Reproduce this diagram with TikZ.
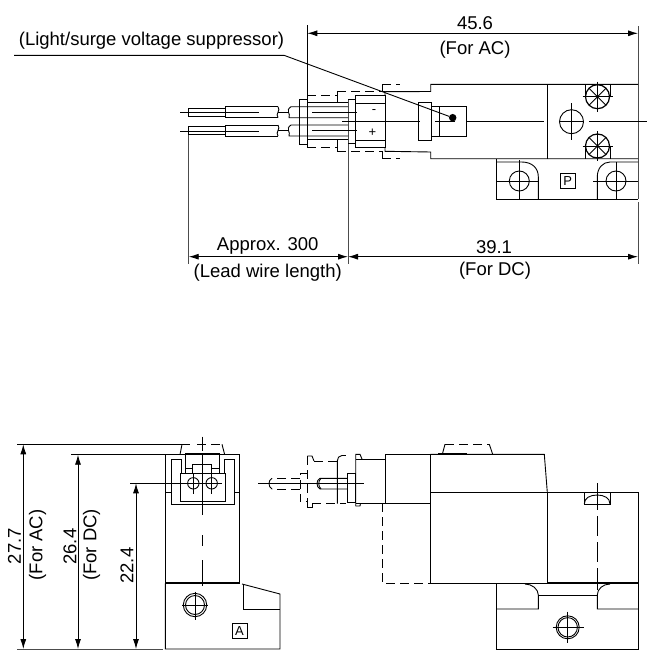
\documentclass[tikz,border=0pt]{standalone}
\usepackage{fontspec}
\setmainfont{Liberation Sans}
\usetikzlibrary{arrows.meta}
\tikzset{
	line/.style={draw=black,line width=0.9pt},
	hidden/.style={line,dash pattern=on 9pt off 5pt},
	heavy/.style={draw=black,line width=1.8pt},
	centre/.style={draw=black,line width=0.9pt},
	extline/.style={draw=black!70,line width=1pt},
	dim/.style={draw=black,line width=0.9pt,{Latex[length=10pt,width=6pt]}-{Latex[length=10pt,width=6pt]}},
	label/.style={inner sep=0pt,font=\fontsize{18.5}{20}\selectfont},
	polarity/.style={inner sep=0pt,font=\fontsize{13}{14}\selectfont},
	tag/.style={draw=black,line width=0.7pt,minimum size=15pt,inner sep=0pt,font=\fontsize{13}{14}\selectfont},
}
\begin{document}
\begin{tikzpicture}[x=1pt,y=-1pt]
		\useasboundingbox (0,0) rectangle (652,653);
		% labels
		\node[label] (supp) at (151.5,41) {(Light/surge voltage suppressor)};
		\node[label] (d456) at (475,23) {45.6};
		\node[label] (ac1) at (475,50) {(For AC)};
		\node[label] (d300) at (267.7,245.7) {Approx. 300};
		\node[label] (lead) at (267.7,272.7) {(Lead wire length)};
		\node[label] (d391) at (494,247) {39.1};
		\node[label] (dc1) at (495,271) {(For DC)};
		\node[label,rotate=90] (d277) at (14.5,546) {27.7};
		\node[label,rotate=90] (ac2) at (37.7,545) {(For AC)};
		\node[label,rotate=90] (d264) at (70,546.7) {26.4};
		\node[label,rotate=90] (dc2) at (91.7,545) {(For DC)};
		\node[label,rotate=90] (d224) at (127,565.7) {22.4};
		\node[tag] (P) at (567.8,181.2) {P};
		\node[tag] (A) at (239.5,631.2) {A};
		\node[polarity] (minus) at (374,112) {-};
		\node[polarity] (plus) at (372.3,132.3) {+};
		
		% top view, dimensions
		\coordinate (t1) at (307.3,33.3);
		\coordinate (t2) at (638,33.3);
		\coordinate (b1) at (188.7,256.7);
		\coordinate (b2) at (348,256.7);
		\coordinate (b3) at (638,256.7);
		\draw[dim] (t1) -- (t2);
		\draw[dim] (b1) -- (b2);
		\draw[dim] (b2) -- (b3);
		\draw[line] (307.3,25) -- (307.3,95.3);
		\draw[extline] (638,26) -- (638,199);
		\draw[extline] (638,202) -- (638,264);
		\draw[extline] (188.7,134.7) -- (188.7,264);
		\draw[extline] (348,99) -- (348,264);
		\coordinate (lead0) at (14,55.3);
		\coordinate (lead1) at (284,55.3);
		\node[circle,fill=black,inner sep=0pt,minimum size=7.5pt] (dot) at (452.7,117.7) {};
		\draw[line] (lead0) -- (lead1) -- (dot);
		
		% top view, wires
		\draw[line] (180,112.3) -- (259,112.3);
		\draw[line] (180,131) -- (259,131);
		\draw[line] (188,108) rectangle (225.7,116);
		\draw[line] (188,126.7) rectangle (225.7,134.7);
		\foreach \y in {106.7,125} {
			\draw[line] (278,\y) -- (225.7,\y) -- (225.7,\y+11) -- (278,\y+11);
			\draw[line] (278,\y) .. controls (281,\y+4) and (275,\y+7) .. (278,\y+11);
			\draw[line] (278,\y+5.5) -- (288,\y+5.5);
			\draw[line] (348,\y) -- (291,\y) .. controls (285,\y+4) and (291,\y+7) .. (289,\y+11) -- (348,\y+11);
			\draw[line] (312,\y+5.5) -- (357,\y+5.5);
		}
		\draw[line] (307.3,99.3) -- (299.3,99.3) -- (299.3,144) -- (307.3,144);
		\draw[line] (307.3,95.3) -- (307.3,148);
		\draw[line] (307.3,102.7) -- (348,102.7);
		\draw[line] (307.3,139.3) -- (348,139.3);
		\draw[hidden] (307.3,95.3) -- (337,95.3);
		\draw[hidden] (307.3,147.7) -- (337,147.7);
		\draw[line] (337,102.7) -- (337,91.7);
		\draw[line] (337,139.3) -- (337,151.3);
		\draw[hidden] (337,91.7) -- (385,91.7);
		\draw[hidden] (337,151.3) -- (382,151.3);
		\draw[line] (382,91.7) -- (382,84.7);
		\draw[line] (382,151.3) -- (382,158.7);
		\draw[hidden] (382,84.7) -- (400,84.7);
		\draw[hidden] (382,158.7) -- (400,158.7);
		
		% top view, body
		\draw[line] (348,99) -- (355.7,99);
		\draw[line] (348,143.3) -- (355.7,143.3);
		\draw[line] (355.7,95) rectangle (385,147.3);
		\draw[line] (355.7,103) -- (385,103);
		\draw[line] (355.7,140) -- (385,140);
		\draw[line] (385,95) -- (385,91.7) -- (430.7,91.5) -- (430.7,84.3) -- (638,84.3);
		\draw[line] (385,147.3) -- (385,151.3) -- (430.7,152) -- (430.7,158.7) -- (638,158.7);
		\draw[line] (342,121.7) -- (420,121.7);
		\draw[line] (435,121.7) -- (455,121.7);
		\draw[line] (466,121.7) -- (544,121.7);
		\draw[line] (589,121.7) -- (647,121.7);
		\draw[line] (418.7,102.7) rectangle (431.7,140);
		\draw[line] (431.7,106.3) rectangle (466,136);
		\draw[line] (439.7,106.3) -- (439.7,136);
		\draw[line] (547,84.3) -- (547,158.7);
		\draw[line] (571.5,121.7) circle (12);
		\draw[line] (571.5,103) -- (571.5,140);
		\draw[line] (560,121.7) -- (583,121.7);
		% screws
		\foreach \y/\s in {96.7/84.3,146/158.7} {
			\draw[line] (585,\s) -- (585,\y);
			\draw[line] (610.7,\s) -- (610.7,\y);
			\draw[heavy,line width=1.2pt,fill=white] (597.5,\y) circle (12);
			\draw[line] (597.5,\y-15) -- (597.5,\y+15);
			\draw[line] (582.5,\y) -- (612.7,\y);
			\draw[line] (589,\y-8.5) -- (606,\y+8.5);
			\draw[line] (589,\y+8.5) -- (606,\y-8.5);
		}
		
		% top view, foot
		\draw[line] (496.7,158.7) -- (496.7,199) -- (638,199);
		\draw[line] (496.7,162) -- (521.7,162) .. controls (532,162) and (538.3,168) .. (538.3,176.7) -- (538.3,199);
		\draw[line] (638,162) -- (610,162) .. controls (603,162) and (597.3,168) .. (597.3,176.7) -- (597.3,199);
		\draw[line] (519.3,181) circle (10);
		\draw[line] (519.3,160) -- (519.3,200);
		\draw[line] (497,181) -- (539,181);
		\draw[line] (616,181) circle (10);
		\draw[line] (616,162) -- (616,200);
		\draw[line] (593,181) -- (638,181);
		
		% front view, dimensions
		\coordinate (v1) at (23.3,444.3);
		\coordinate (v1b) at (23.3,649);
		\coordinate (v2) at (78,454.7);
		\coordinate (v2b) at (78,649);
		\coordinate (v3) at (136,483.3);
		\coordinate (v3b) at (136,649);
		\draw[dim] (v1) -- (v1b);
		\draw[dim] (v2) -- (v2b);
		\draw[dim] (v3) -- (v3b);
		\draw[line] (17,444.3) -- (190,444.3);
		\draw[line] (71,454.7) -- (165.3,454.7);
		\draw[line] (130,483.3) -- (222,483.3);
		\draw[extline] (17,649) -- (163,649);
		
		% front view, body
		\draw[line] (165.3,454.7) rectangle (239.3,583.3);
		\draw[heavy] (165.3,583.3) -- (239.3,583.3);
		\draw[line] (165.3,583.3) -- (165.3,649) -- (280,649) -- (280,594) -- (242,584);
		\draw[line] (243,584) -- (243,609) -- (280,609);
		\draw[line] (195,591.7) -- (195,620);
		\draw[line] (182,605) -- (208,605);
		\draw[line] (195,605) circle (11.7);
		\draw[line] (195,605) circle (9.5);
		\draw[line] (180,454.7) -- (182,444.3);
		\draw[hidden] (197,444.3) -- (222,444.3);
		\draw[line] (222,444.3) -- (224.7,454.7);
		\draw[line] (171.7,459) -- (171.7,504) -- (234,504) -- (234,459) -- (224,459) -- (224,473);
		\draw[line] (171.7,459) -- (181,459) -- (181,473);
		\draw[line] (180,473) rectangle (225,501.7);
		\draw[line] (185.7,473) -- (185.7,453.5) -- (219,453.5) -- (219,473);
		\draw[line] (192.3,473) -- (192.3,464.3) -- (211.7,464.3) -- (211.7,473);
		\draw[line] (185.7,468) -- (192.3,468);
		\draw[line] (211.7,468) -- (219,468);
		\draw[line] (165.3,492.3) -- (171.7,492.3);
		\draw[line] (234,492.3) -- (239.3,492.3);
		\foreach \x in {193.3,211.7} {
			\draw[line] (\x,483.3) circle (5.7);
			\draw[line] (\x,474) -- (\x,494);
		}
		% centre line
		\draw[centre] (202.3,436.7) -- (202.3,451);
		\draw[centre] (202.3,455) -- (202.3,515);
		\draw[centre] (202.3,535) -- (202.3,546);
		\draw[centre] (202.3,560) -- (202.3,586);
		
		% side view, body
		\draw[line] (385,454.3) rectangle (430.3,503.3);
		\draw[line] (430.3,454.3) -- (544.3,454.3) -- (547.3,492.3);
		\draw[line] (430.3,503.3) -- (430.3,583.3) -- (547.3,583.3) -- (547.3,492.3);
		\draw[line] (430.3,492.3) -- (638.3,492.3) -- (638.3,649) -- (496.7,649) -- (496.7,583.3);
		\draw[heavy] (547.3,583.3) -- (638.3,583.3);
		\draw[hidden] (382.3,503.3) -- (382.3,583.3) -- (430.3,583.3);
		\draw[line] (442.3,454.3) -- (445,444.3);
		\draw[hidden] (445,444.3) -- (489.3,444.3);
		\draw[line] (489.3,444.3) -- (492.7,454.3);
		\draw[heavy,line width=1.2pt] (438.3,453.7) -- (466.7,453.7);
		% side view, foot
		\draw[line] (525,584) .. controls (532,584) and (538.3,589) .. (538.3,595) -- (538.3,609) -- (496.7,609);
		\draw[line] (638.3,609) -- (597.3,609) -- (597.3,595) .. controls (597.3,589) and (603,584) .. (610,584);
		\draw[line] (538.3,595.7) -- (597.3,595.7);
		\draw[line] (567.7,627.3) circle (11.5);
		\draw[line] (567.7,627.3) circle (9.7);
		\draw[line] (567.7,611.7) -- (567.7,642.7);
		\draw[line] (552.7,627.3) -- (584,627.3);
		\draw[line] (584.3,492.3) rectangle (610,504);
		\draw[line] (584.3,504) .. controls (584.3,498) and (590,495) .. (597.3,495) .. controls (604,495) and (610,498) .. (610,504);
		\draw[centre] (597.3,483.3) -- (597.3,510);
		\draw[centre] (597.3,516) -- (597.3,536);
		\draw[centre] (597.3,542) -- (597.3,562);
		\draw[centre] (597.3,568) -- (597.3,590);
		
		% side view, connector
		\draw[line] (356,459) -- (385,459);
		\draw[line] (355.7,506) -- (355.7,454.3) -- (360,454.3) -- (362,459);
		\draw[line] (355.7,506) -- (360,506) -- (360.5,503.3);
		\draw[line] (355.7,503.3) -- (385,503.3);
		\draw[line] (347.7,473.3) rectangle (355.7,502.3);
		\draw[line] (347.7,478.3) -- (320,478.3) .. controls (316,480) and (316,487) .. (320,489) -- (347.7,489);
		\draw[line] (258,483.7) -- (364.3,483.7);
		\draw[line] (321,478.3) .. controls (318,481) and (318,486) .. (321,489);
		\draw[hidden] (300,478.3) -- (272,478.3);
		\draw[hidden] (300,489) -- (272,489);
		\draw[line] (272,478.3) .. controls (268,480) and (268,487) .. (272,489);
		\draw[hidden] (307.3,473.3) -- (300,473.3) -- (300,501.7) -- (307.3,501.7);
		\draw[hidden] (307.3,456) -- (307.3,507.3);
		\draw[line] (307.3,456) -- (312,456) -- (314,461);
		\draw[line] (307.3,507.3) -- (312,507.3) -- (312,503.5);
		\draw[hidden] (314,461) -- (337.3,461);
		\draw[line] (337.3,503.5) -- (337.3,461) .. controls (337.3,458) and (339,455.5) .. (342,455.5);
		\draw[hidden] (342,455.5) -- (346,455.5);
		\draw[hidden] (312,503.5) -- (346,503.5);
		\end{tikzpicture}
\end{document}
